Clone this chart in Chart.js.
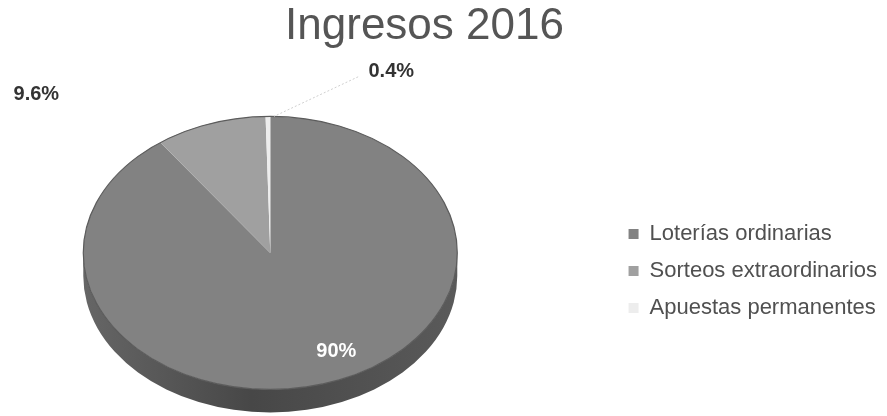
<!DOCTYPE html>
<html>
<head>
<meta charset="utf-8">
<script src="https://cdn.jsdelivr.net/npm/chart.js@4/dist/chart.umd.min.js"></script>
<style>
  html, body { margin: 0; padding: 0; background: #ffffff; overflow: hidden; }
</style>
</head>
<body>
<canvas id="c" width="887" height="416"></canvas>
<script>
// ---- data ----
const chartTitle = 'Ingresos 2016';
const categories = ['Loterías ordinarias', 'Sorteos extraordinarios', 'Apuestas permanentes'];
const values = [90, 9.6, 0.4];
const valueLabels = ['90%', '9.6%', '0.4%'];

// ---- styles / layout ----
const sliceColors = ['#828282', '#a0a0a0', '#ededed'];
const labelColors = ['#ffffff', '#333333', '#333333'];
// label anchors, in units of the pie radius, relative to the pie centre
const labelAnchors = [[0.353, 0.725], [-1.251, -1.158], [0.647, -1.326]];
const TILT = 0.73;        // vertical squash of the pie top
const DEPTH = 23;         // thickness of the pie side, px
const PIE_RADIUS = 187;   // px
const SPACER = 73;        // gap between plot area and legend, px
const TITLE_SHIFT = 19;   // nudge title left, px

const FONT = '"Liberation Sans", Arial, sans-serif';

const spacerPlugin = {
  id: 'spacer',
  beforeInit(chart) {
    const box = {
      position: 'right', weight: -1, fullSize: false,
      options: { display: false },
      left: 0, top: 0, right: 0, bottom: 0, width: 0, height: 0,
      isHorizontal() { return false; },
      update(maxWidth, maxHeight) { this.width = SPACER; this.height = maxHeight; },
      draw() {}
    };
    Chart.layouts.addBox(chart, box);
  },
  afterLayout(chart) {
    const t = chart.titleBlock;
    if (t) { t.left -= TITLE_SHIFT; t.right -= TITLE_SHIFT; }
  }
};

const pie3d = {
  id: 'pie3d',
  beforeDatasetsDraw(chart) {
    const arc = chart.getDatasetMeta(0).data[0];
    if (!arc) return;
    const x = arc.x, y = arc.y, r = arc.outerRadius;
    const ctx = chart.ctx;
    ctx.save();
    // side wall
    const g = ctx.createLinearGradient(x - r, 0, x + r, 0);
    g.addColorStop(0, '#666666');
    g.addColorStop(0.45, '#474747');
    g.addColorStop(1, '#5a5a5a');
    ctx.fillStyle = g;
    ctx.beginPath();
    ctx.ellipse(x, y + DEPTH, r, r * TILT, 0, 0, Math.PI, false);
    ctx.lineTo(x - r, y);
    ctx.ellipse(x, y, r, r * TILT, 0, Math.PI, 0, true);
    ctx.closePath();
    ctx.fill();
    // squash the top face
    ctx.translate(x, y);
    ctx.scale(1, TILT);
    ctx.translate(-x, -y);
  },
  afterDatasetsDraw(chart) {
    const arc = chart.getDatasetMeta(0).data[0];
    if (!arc) return;
    const x = arc.x, y = arc.y, r = arc.outerRadius;
    const ctx = chart.ctx;
    ctx.restore();
    ctx.save();
    // rim outline
    ctx.strokeStyle = '#5c5c5c';
    ctx.lineWidth = 1.2;
    ctx.beginPath();
    ctx.ellipse(x, y, r, r * TILT, 0, 0, Math.PI * 2);
    ctx.stroke();
    // leader line for the small slice
    ctx.strokeStyle = '#cfcfcf';
    ctx.lineWidth = 1;
    ctx.setLineDash([2, 2]);
    ctx.beginPath();
    ctx.moveTo(x + 0.47 * r, y - 1.29 * r * TILT);
    ctx.lineTo(x + 0.02 * r, y - 1.0 * r * TILT);
    ctx.stroke();
    ctx.setLineDash([]);
    // value labels
    ctx.font = 'bold 20px ' + FONT;
    ctx.textAlign = 'center';
    ctx.textBaseline = 'middle';
    labelAnchors.forEach((p, i) => {
      ctx.fillStyle = labelColors[i];
      ctx.fillText(valueLabels[i], x + p[0] * r, y + p[1] * r * TILT);
    });
    ctx.restore();
  }
};

new Chart(document.getElementById('c'), {
  type: 'pie',
  data: {
    labels: categories,
    datasets: [{
      data: values,
      backgroundColor: sliceColors,
      borderWidth: 0,
      radius: PIE_RADIUS,
      clip: false
    }]
  },
  options: {
    responsive: false,
    animation: false,
    events: [],
    layout: { padding: 0 },
    plugins: {
      title: {
        display: true,
        text: chartTitle,
        color: '#555555',
        font: { family: FONT, size: 44, weight: 'normal' },
        padding: { top: 0, bottom: 37 }
      },
      legend: {
        position: 'right',
        align: 'start',
        title: { display: true, text: '', font: { size: 10 }, padding: { top: 196, bottom: 0 } },
        labels: {
          boxWidth: 10,
          boxHeight: 10,
          padding: 15,
          color: '#505050',
          font: { family: FONT, size: 22 }
        }
      },
      tooltip: { enabled: false }
    }
  },
  plugins: [spacerPlugin, pie3d]
});
</script>
</body>
</html>
